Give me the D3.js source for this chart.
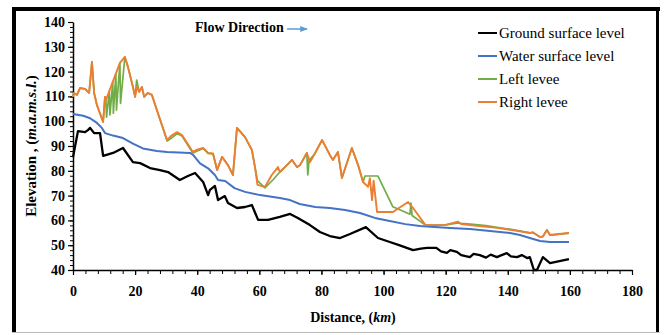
<!DOCTYPE html>
<html><head><meta charset="utf-8">
<script src="https://cdn.jsdelivr.net/npm/d3@7"></script>
<style>
html,body{margin:0;padding:0;background:#fff;}
svg{display:block;font-family:"Liberation Serif","Times New Roman",serif;}
</style></head><body>
<svg id="chart" width="665" height="335"></svg>
<script>
// ---- Data ----
const xTicks = [0, 20, 40, 60, 80, 100, 120, 140, 160, 180];
const yTicks = [40, 50, 60, 70, 80, 90, 100, 110, 120, 130, 140];
const seriesNames = ["Ground surface level", "Water surface level", "Left levee", "Right levee"];

const groundKm = [0, 1.6, 3.9, 4.8, 5.5, 6.8, 8.7, 9.7, 12.9, 16.1, 19.3, 21.6, 24.8, 28.0, 30.6, 34.4, 37.0, 39.3, 41.9, 43.5, 44.1, 45.7, 46.7, 48.9, 49.9, 52.8, 55.4, 57.6, 59.6, 62.8, 66.6, 69.9, 72.4, 76.3, 79.5, 82.7, 86.0, 89.2, 94.3, 98.2, 102, 105, 109.5, 112, 114, 117, 118.5, 120.4, 121.5, 123.6, 125, 127.8, 129, 131, 133, 134.5, 136.5, 138, 139.7, 141, 143, 144.5, 146.2, 147.1, 148.4, 149.4, 151.3, 153.6, 159.7];
const groundElev = [85.5, 96.0, 95.6, 96.4, 97.3, 95.2, 95.2, 86.0, 87.2, 89.2, 83.5, 83.1, 81.1, 80.3, 79.5, 76.3, 77.9, 79.1, 75.5, 70.2, 72.3, 73.9, 68.2, 69.8, 67.0, 65.0, 65.4, 66.2, 60.2, 60.2, 61.4, 62.6, 61.0, 58.1, 55.3, 53.7, 52.9, 54.5, 57.3, 52.9, 51.3, 50.0, 48.0, 48.6, 48.9, 48.9, 47.5, 46.9, 48.0, 47.3, 46.0, 45.2, 46.5, 46.0, 45.0, 46.2, 45.2, 46.0, 46.8, 45.5, 45.2, 46.0, 44.8, 45.2, 40, 40, 45.2, 42.8, 44.4];

const waterKm = [0, 3.3, 5.5, 7.7, 9.3, 10.3, 12.9, 16.1, 19.3, 22.5, 27, 30.3, 37.7, 38.6, 40.9, 43.5, 45.7, 46.7, 49, 52, 55.4, 60.2, 66.6, 69.9, 73, 78, 82.7, 87.6, 92.4, 97.2, 102, 107, 111.7, 116.5, 121.4, 127.8, 134.3, 140.7, 143.9, 147.1, 150.4, 153.6, 159.7];
const waterElev = [102.9, 102.2, 101.2, 99.3, 97.3, 95.2, 94.2, 93.2, 91.0, 89.0, 88.0, 87.6, 87.2, 86.5, 83.0, 81.0, 78.3, 76.3, 75.9, 73.0, 71.5, 70.2, 69.0, 68.2, 66.6, 65.4, 65.0, 64.2, 63.0, 61.0, 59.8, 58.5, 57.7, 57.3, 56.9, 56.5, 55.7, 54.9, 54.1, 52.9, 51.7, 51.3, 51.3];

const leftKm = [0, 0.3, 1.3, 2.3, 3.9, 5.2, 6.1, 6.8, 7.7, 9.7, 10.3, 10.6, 10.8, 11.7, 11.9, 12.8, 13.0, 13.8, 14.0, 15.1, 15.3, 16.7, 17.7, 19.3, 20, 20.5, 21.3, 22.2, 22.9, 24.1, 25.4, 27, 30.3, 31.5, 33.5, 35.1, 38.6, 40, 41.9, 43.5, 45.1, 46.4, 48, 49.9, 51.5, 52.8, 55.4, 57.6, 58.6, 59.4, 61.8, 64.5, 66.6, 68.9, 70.5, 72.1, 73.1, 75.3, 75.6, 76.0, 77.9, 80.2, 82.7, 83.7, 85.3, 86.6, 89.8, 91.8, 93.4, 94.0, 98.2, 103, 108.5, 108.8, 109.2, 113.5, 120, 124, 125, 128, 133, 136.5, 142, 147.1, 148, 150.4, 151.3, 152.6, 153.6, 159.7];
const leftElev = [109.8, 111.4, 110.6, 113.4, 113.0, 111.4, 123.9, 111.4, 106.5, 99.7, 109.8, 108.5, 101.6, 112.2, 102.5, 115.8, 103.2, 119.2, 104.5, 123.5, 107.2, 125.9, 121.9, 113.8, 109.8, 116.6, 111.8, 113.8, 109.8, 111.4, 110.6, 104.5, 92.0, 93.0, 95.0, 94.0, 87.2, 88.0, 89.0, 87.0, 86.8, 80.3, 85.6, 82.3, 78.3, 97.3, 93.6, 88.4, 81.5, 76.0, 73.1, 76.5, 79.5, 82.3, 84.4, 81.5, 82.3, 87.2, 78.3, 84.0, 87.0, 92.4, 86.4, 84.4, 87.6, 77.1, 89.2, 82.3, 75.5, 77.9, 77.9, 65.5, 62.5, 67.0, 62.0, 58.1, 58.2, 59.0, 58.8, 58.5, 57.9, 57.2, 56.2, 55.0, 55.2, 53.3, 53.5, 56.1, 54.1, 54.9];

const rightKm = [0, 0.3, 1.3, 2.3, 3.9, 5.2, 6.1, 6.8, 7.7, 9.7, 10.3, 10.6, 15.1, 16.7, 17.7, 19.3, 20, 20.6, 21.3, 22.2, 22.9, 24.1, 25.4, 27, 30.3, 31.5, 33.5, 35.1, 38.6, 40, 41.9, 43.5, 45.1, 46.4, 48, 49.9, 51.5, 52.8, 55.4, 57.6, 58.6, 59.4, 61.8, 64, 66, 66.6, 68.9, 70.5, 72.1, 73.1, 75.3, 76.3, 77.9, 80.2, 82.7, 83.7, 85.3, 86.6, 89.8, 91.8, 93.4, 95, 95.6, 96.3, 96.8, 97.9, 103, 107.9, 109.5, 113.5, 120, 124, 125, 130, 136.5, 142, 147.1, 148, 150.4, 151.3, 152.6, 153.6, 159.7];
const rightElev = [109.8, 111.4, 110.6, 113.4, 113.0, 111.4, 123.9, 111.4, 106.5, 99.7, 109.8, 108.5, 123.5, 125.9, 121.9, 113.8, 109.8, 114.0, 111.8, 113.8, 109.8, 111.4, 110.6, 104.5, 92.4, 94.0, 95.6, 94.4, 87.6, 88.5, 89.2, 87.2, 87.0, 80.3, 85.6, 82.3, 78.3, 97.3, 93.6, 88.4, 81.5, 74.3, 73.5, 78.3, 81.5, 79.5, 82.3, 84.4, 81.5, 82.3, 87.2, 83.5, 87.0, 92.4, 86.4, 84.4, 87.6, 77.1, 89.2, 82.3, 75.5, 73.5, 77.0, 68.2, 76.0, 63.4, 63.4, 67.4, 65.0, 58.1, 58.2, 59.5, 58.5, 57.8, 57.0, 56.0, 54.9, 55.2, 53.3, 53.5, 56.1, 54.1, 54.9];

// ---- Layout ----
const svg = d3.select("#chart");
const x = d3.scaleLinear().domain([0, 180]).range([73, 632]);
const y = d3.scaleLinear().domain([40, 140]).range([270, 22]);
const colors = ["#000000", "#4472C4", "#70AD47", "#ED7D31"];

// frame
svg.append("rect").attr("x", 0).attr("y", 0).attr("width", 665).attr("height", 335).attr("fill", "#fff");
svg.append("line").attr("x1", 14).attr("x2", 14).attr("y1", 7).attr("y2", 333).attr("stroke", "#000").attr("stroke-width", 4);
svg.append("line").attr("x1", 12).attr("x2", 660).attr("y1", 9).attr("y2", 9).attr("stroke", "#000").attr("stroke-width", 4);
svg.append("line").attr("x1", 657.5).attr("x2", 657.5).attr("y1", 7).attr("y2", 333).attr("stroke", "#000").attr("stroke-width", 3);
svg.append("line").attr("x1", 12).attr("x2", 660).attr("y1", 332.5).attr("y2", 332.5).attr("stroke", "#bbb").attr("stroke-width", 1);

// axes
const yMinor = d3.range(40, 140.01, 2);
const xMinor = d3.range(0, 180.01, 4);
svg.append("g").attr("transform", "translate(73,0)")
  .call(d3.axisLeft(y).tickValues(yMinor).tickSize(3).tickFormat(""))
  .call(g => g.select(".domain").remove())
  .selectAll("line").attr("stroke", "#000").attr("stroke-width", 1);
svg.append("g").attr("transform", "translate(0,270)")
  .call(d3.axisBottom(x).tickValues(xMinor).tickSize(4).tickFormat(""))
  .call(g => g.select(".domain").remove())
  .selectAll("line").attr("stroke", "#000").attr("stroke-width", 1);

const yAxis = svg.append("g").attr("transform", "translate(73,0)")
  .call(d3.axisLeft(y).tickValues(yTicks).tickSize(5).tickSizeOuter(0).tickPadding(3).tickFormat(d3.format("d")));
const xAxis = svg.append("g").attr("transform", "translate(0,270)")
  .call(d3.axisBottom(x).tickValues(xTicks).tickSize(5).tickSizeOuter(0).tickPadding(11).tickFormat(d3.format("d")));
[yAxis, xAxis].forEach(g => {
  g.select(".domain").attr("stroke", "#000").attr("stroke-width", 1.5);
  g.selectAll("line").attr("stroke", "#000").attr("stroke-width", 1.2);
  g.selectAll("text").attr("font-family", "Liberation Serif, serif").attr("font-size", 14)
    .attr("font-weight", "bold").attr("fill", "#000");
});

// lines
const line = d3.line().x(d => x(d[0])).y(d => y(d[1]));
const zipS = (a, b) => a.map((v, i) => [v, b[i]]);
const series = [
  zipS(groundKm, groundElev),
  zipS(waterKm, waterElev),
  zipS(leftKm, leftElev),
  zipS(rightKm, rightElev)
];
const widths = [2.3, 2, 1.7, 1.9];
series.forEach((s, i) => {
  svg.append("path").datum(s).attr("d", line).attr("fill", "none")
    .attr("stroke", colors[i]).attr("stroke-width", widths[i]).attr("stroke-linejoin", "round");
});

// axis titles
svg.append("text").attr("x", 353).attr("y", 322).attr("text-anchor", "middle")
  .attr("font-size", 14).attr("font-weight", "bold")
  .html('Distance, (<tspan font-style="italic">km</tspan>)');
svg.append("text").attr("transform", "translate(36,146) rotate(-90)").attr("text-anchor", "middle")
  .attr("font-size", 15).attr("font-weight", "bold")
  .html('Elevation , (<tspan font-style="italic">m.a.m.s.l.</tspan>)');

// flow direction
svg.append("text").attr("x", 195).attr("y", 32).attr("font-size", 14).attr("font-weight", "bold")
  .text("Flow Direction");
svg.append("defs").append("marker").attr("id", "arr").attr("viewBox", "0 0 10 10")
  .attr("refX", 9).attr("refY", 5).attr("markerWidth", 5).attr("markerHeight", 5).attr("orient", "auto")
  .append("path").attr("d", "M0,1 L10,5 L0,9 Z").attr("fill", "#5B9BD5");
svg.append("line").attr("x1", 287).attr("x2", 307).attr("y1", 29).attr("y2", 29)
  .attr("stroke", "#5B9BD5").attr("stroke-width", 1.5).attr("marker-end", "url(#arr)");

// legend
const legend = svg.append("g");
seriesNames.forEach((name, i) => {
  const ly = 33 + i * 23;
  legend.append("line").attr("x1", 478).attr("x2", 497).attr("y1", ly).attr("y2", ly)
    .attr("stroke", colors[i]).attr("stroke-width", 2);
  legend.append("text").attr("x", 499).attr("y", ly + 5).attr("font-size", 15).attr("fill", "#000").text(name);
});
</script>
</body></html>
